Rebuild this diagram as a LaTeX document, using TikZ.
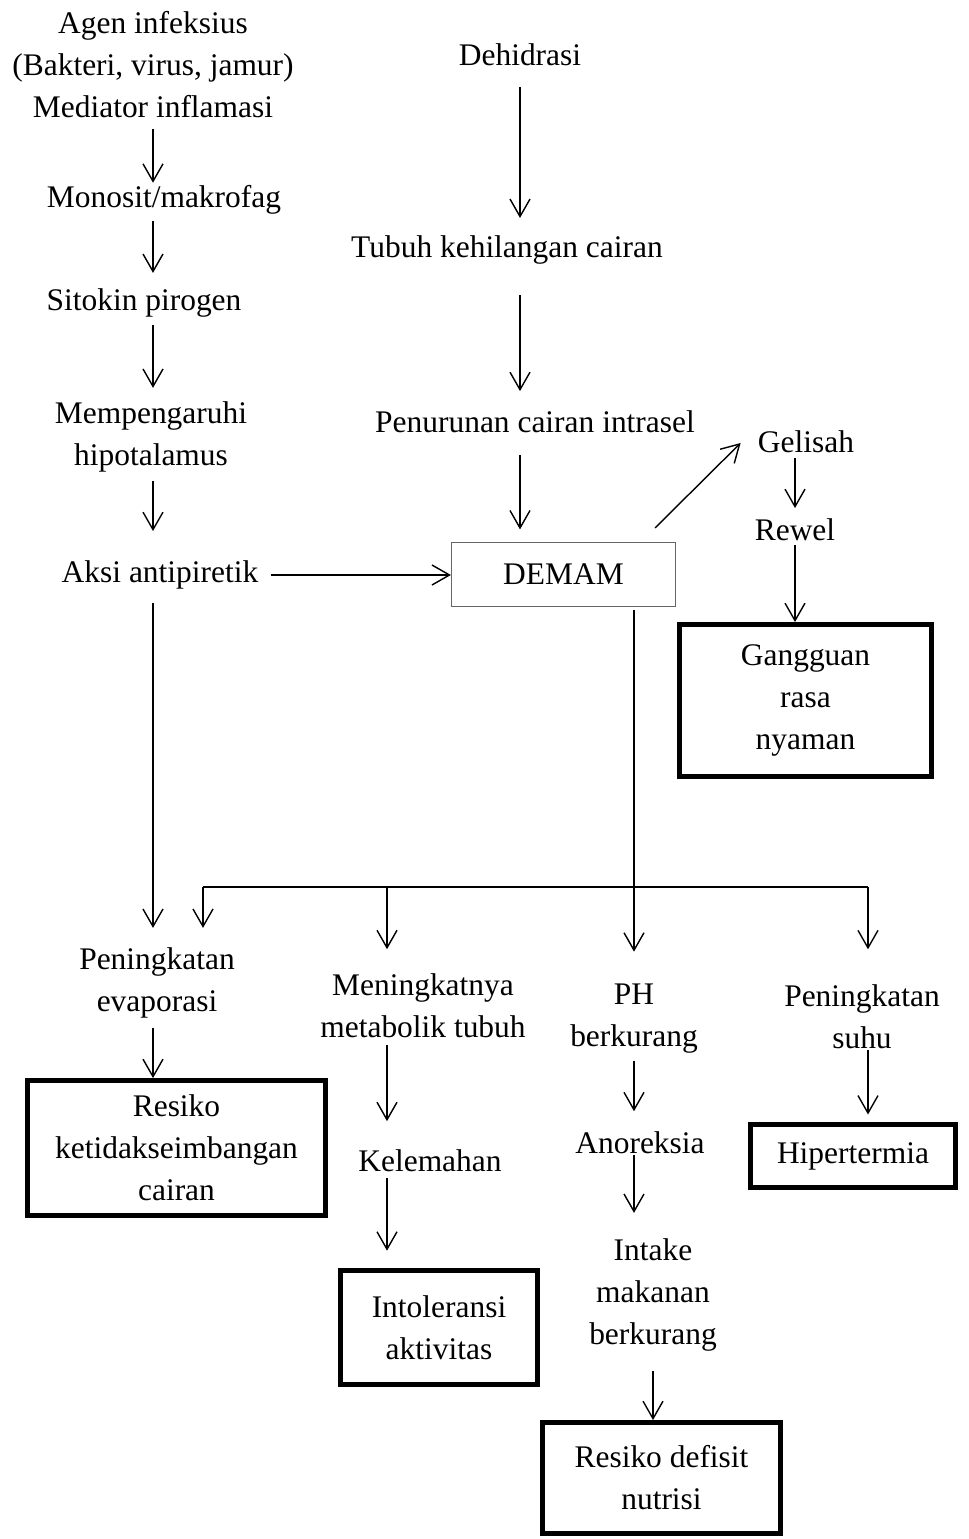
\documentclass[tikz,border=0pt]{standalone}
\usepackage{fontspec}
\setmainfont{Liberation Serif}
\usetikzlibrary{arrows.meta}

\begin{document}
\begin{tikzpicture}[x=0.02cm, y=-0.02cm,
  every node/.style={font=\fontsize{17.9}{23.9}\selectfont, inner sep=0pt, align=center},
  arr/.style={line width=0.8pt, -{Straight Barb[length=3.5mm, width=4mm]}},
  diag/.style={draw, line width=2.8pt}]
\useasboundingbox (0,0) rectangle (968,1539);

\node (agen) at (153,65) {Agen infeksius\\(Bakteri, virus, jamur)\\Mediator inflamasi};
\node (mono) at (164,200) {Monosit/makrofag};
\node (sito) at (144,303) {Sitokin pirogen};
\node (memp) at (151,437) {Mempengaruhi\\hipotalamus};
\node (aksi) at (160,575) {Aksi antipiretik};

\node (dehi) at (520,55) {Dehidrasi};
\node (tubuh) at (507,250) {Tubuh kehilangan cairan};
\node (penu) at (535,422) {Penurunan cairan intrasel};
\node[draw=black!60, line width=0.7pt, minimum width=4.48cm, minimum height=1.28cm] (demam) at (563.5,574.5) {DEMAM};

\node (gelis) at (806,442) {Gelisah};
\node (rewel) at (795,530) {Rewel};
\node[diag, minimum width=5.04cm, minimum height=3.04cm] (gang) at (805.5,700.5) {Gangguan\\rasa\\nyaman};

\node (penev) at (157,983) {Peningkatan\\evaporasi};
\node[diag, minimum width=5.96cm, minimum height=2.7cm] (resk) at (176.5,1148) {Resiko\\ketidakseimbangan\\cairan};
\node (menin) at (423,1006) {Meningkatnya\\metabolik tubuh};
\node (kelem) at (430,1161) {Kelemahan};
\node[diag, minimum width=3.94cm, minimum height=2.28cm] (intol) at (439,1327.5) {Intoleransi\\aktivitas};
\node (ph) at (634,1019) {PH\\berkurang};
\node (anor) at (640,1143) {Anoreksia};
\node (intake) at (653,1295) {Intake\\makanan\\berkurang};
\node[diag, minimum width=4.76cm, minimum height=2.22cm] (nutr) at (661.5,1478) {Resiko defisit\\nutrisi};
\node (suhu) at (862,1017) {Peningkatan\\suhu};
\node[diag, minimum width=4.1cm, minimum height=1.26cm] (hiper) at (853,1156) {Hipertermia};

\coordinate (busL) at (203,887);
\coordinate (busM) at (387,887);
\coordinate (busR) at (868,887);

\draw[arr, shorten <=5.7pt, shorten >=1.4pt] (agen.south) -- (agen.south |- mono.north);
\draw[arr, shorten <=3.7pt, shorten >=8.8pt] (mono.south -| agen) -- (sito.north -| agen);
\draw[arr, shorten <=4.3pt, shorten >=7.7pt] (sito.south -| agen) -- (memp.north -| agen);
\draw[arr, shorten <=4.8pt, shorten >=16.7pt] (memp.south -| agen) -- (aksi.north -| agen);
\draw[arr, shorten <=6.8pt] (aksi.east) -- (aksi.east -| demam.west);

\draw[arr, shorten <=11.6pt, shorten >=9.9pt] (dehi.south) -- (dehi.south |- tubuh.north);
\draw[arr, shorten <=17.3pt, shorten >=11.1pt] (tubuh.south -| dehi) -- (penu.north -| dehi);
\draw[arr, shorten <=12.2pt, shorten >=7.1pt] (penu.south -| dehi) -- (demam.north -| dehi);
\draw[arr] ([shift={(-21,-14)}]demam.north east) -- ([shift={(-17,1)}]gelis.west);
\draw[arr, shorten <=2.6pt, shorten >=6pt] (gelis.south -| rewel) -- (rewel.north);
\draw[arr, shorten <=2pt] (rewel.south) -- (rewel.south |- gang.north);

\draw[arr, shorten <=7.7pt, shorten >=11.1pt] (aksi.south -| agen) -- (penev.north -| agen);
\draw[arr, shorten <=1.7pt, shorten >=18.4pt] (demam.south -| ph) -- (ph.north);
\draw[line width=0.8pt] (busL) -- (busR);
\draw[arr, shorten >=11.1pt] (busL) -- (busL |- penev.north);
\draw[arr, shorten >=13.9pt] (busM) -- (busM |- menin.north);
\draw[arr, shorten >=20.1pt] (busR) -- (busR |- suhu.north);

\draw[arr, shorten <=5.4pt] (penev.south -| agen) -- (resk.north -| agen);
\draw[arr, shorten <=3.7pt, shorten >=16.2pt] (menin.south -| busM) -- (kelem.north -| busM);
\draw[arr, shorten <=3.1pt, shorten >=9.9pt] (kelem.south -| busM) -- (intol.north -| busM);
\draw[arr, shorten <=3.7pt, shorten >=11.6pt] (ph.south) -- (ph.south |- anor.north);
\draw[arr, shorten <=0.3pt, shorten >=14.5pt] (anor.south -| ph) -- (intake.north -| ph);
\draw[arr, shorten <=11.1pt] (intake.south) -- (intake.south |- nutr.north);
\draw[arr, shorten <=0.3pt, shorten >=4.3pt] (suhu.south -| busR) -- (hiper.north -| busR);

\end{tikzpicture}
\end{document}
